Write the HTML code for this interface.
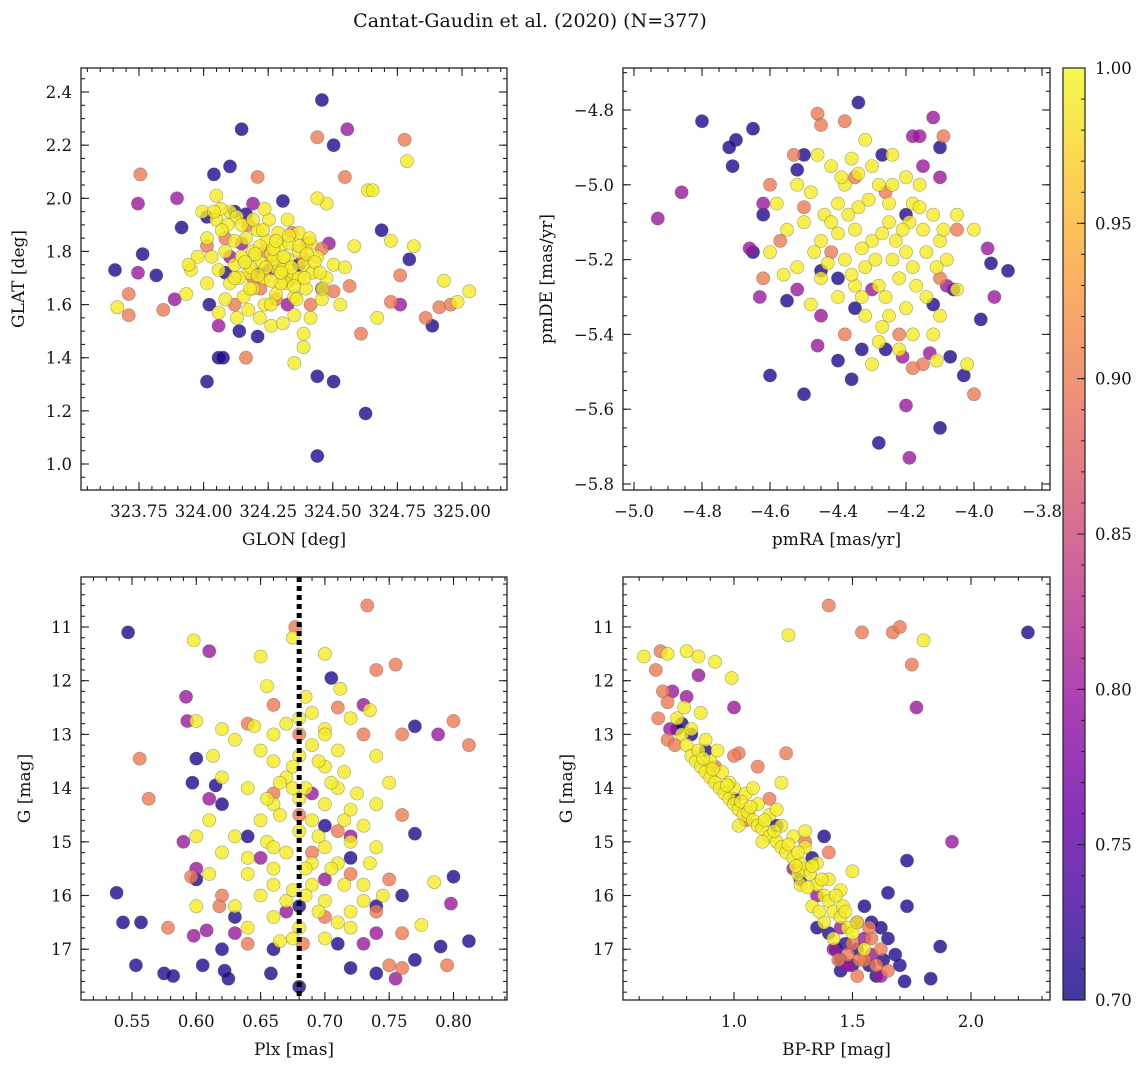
<!DOCTYPE html>
<html><head><meta charset="utf-8"><style>
html,body{margin:0;padding:0;background:#fff;}
svg text{font-family:"DejaVu Serif","Liberation Serif",serif;fill:#111;}
</style></head><body>
<svg id="fig" width="1148" height="1067" viewBox="0 0 1148 1067" xmlns="http://www.w3.org/2000/svg">
<defs><linearGradient id="plasma" x1="0" y1="1" x2="0" y2="0">
<stop offset="0" stop-color="#0d0887"/><stop offset="0.1" stop-color="#41049d"/><stop offset="0.2" stop-color="#6a00a8"/><stop offset="0.3" stop-color="#8f0da4"/><stop offset="0.4" stop-color="#b12a90"/><stop offset="0.5" stop-color="#cc4778"/><stop offset="0.6" stop-color="#e16462"/><stop offset="0.7" stop-color="#f2844b"/><stop offset="0.8" stop-color="#fca636"/><stop offset="0.9" stop-color="#fcce25"/><stop offset="1" stop-color="#f0f921"/></linearGradient></defs>
<text x="530" y="27" font-size="19" text-anchor="middle">Cantat-Gaudin et al. (2020) (N=377)</text>
</svg>
<script>
// membership probability levels for each colour group
const probLevels = [0.71, 0.80, 0.90, 0.99];
// Panel 1: GLON / GLAT pairs grouped by probability level
const skyDark = [[323.657,1.73],[323.764,1.79],[323.817,1.71],[323.915,1.89],[324.013,1.31],[324.022,1.60],[324.04,2.09],[324.058,1.40],[324.075,1.40],[324.102,2.12],[324.147,2.26],[324.209,1.48],[324.44,1.03],[324.44,1.33],[324.458,2.37],[324.503,2.20],[324.503,1.31],[324.627,1.19],[324.689,1.88],[324.796,1.77],[324.885,1.52],[324.12,1.95],[324.164,1.94],[324.218,1.72],[324.307,1.99],[324.084,1.72],[324.369,1.75],[324.458,1.66],[324.138,1.50],[324.013,1.93]];
const skyPurple = [[323.746,1.98],[323.746,1.72],[323.897,2.00],[323.888,1.62],[324.556,2.26],[324.761,1.60],[324.102,1.78],[324.253,1.73],[324.058,1.52],[324.325,1.60],[324.485,1.83],[324.147,1.83],[324.191,1.98]];
const skySalmon = [[323.71,1.64],[323.71,1.56],[323.844,1.58],[323.755,2.09],[324.164,1.40],[324.209,2.08],[324.44,2.23],[324.547,2.08],[324.778,2.22],[324.609,1.49],[324.761,1.71],[324.859,1.55],[324.912,1.59],[324.956,1.60],[324.725,1.61],[324.084,1.85],[324.191,1.70],[324.28,1.62],[324.236,1.80],[324.173,1.90],[324.414,1.60],[324.458,1.81],[324.342,1.87],[324.013,1.82],[324.503,1.65],[324.12,1.60],[324.565,1.67],[324.387,1.77],[324.27,1.77],[324.33,1.69],[324.22,1.66],[324.4,1.83]];
const skyYellow = [[323.666,1.59],[323.933,1.64],[323.951,1.73],[324.049,2.01],[324.351,1.38],[324.636,2.03],[324.654,2.03],[324.787,2.14],[324.672,1.55],[324.814,1.82],[324.983,1.61],[324.93,1.69],[325.028,1.65],[324.725,1.84],[324.12,1.75],[324.147,1.78],[324.173,1.72],[324.191,1.80],[324.218,1.76],[324.236,1.70],[324.262,1.79],[324.28,1.74],[324.298,1.82],[324.325,1.77],[324.342,1.71],[324.369,1.80],[324.387,1.75],[324.164,1.85],[324.209,1.88],[324.244,1.84],[324.289,1.87],[324.316,1.68],[324.191,1.66],[324.155,1.63],[324.102,1.68],[324.084,1.80],[324.058,1.73],[324.031,1.78],[324.013,1.85],[323.995,1.95],[323.977,1.78],[323.942,1.75],[324.049,1.92],[324.102,1.95],[324.129,1.93],[324.147,1.90],[324.253,1.92],[324.325,1.92],[324.369,1.87],[324.414,1.83],[324.44,1.78],[324.422,1.72],[324.396,1.66],[324.351,1.63],[324.28,1.64],[324.236,1.60],[324.173,1.58],[324.129,1.55],[324.218,1.55],[324.262,1.52],[324.351,1.56],[324.414,1.55],[324.458,1.62],[324.476,1.70],[324.503,1.75],[324.387,1.49],[324.387,1.44],[324.307,1.53],[324.058,1.57],[324.013,1.68],[324.084,1.62],[324.12,1.84],[324.236,1.96],[324.218,1.82],[324.182,1.74],[324.271,1.77],[324.307,1.73],[324.333,1.83],[324.138,1.70],[324.093,1.90],[324.066,1.96],[324.04,1.95],[324.476,1.98],[324.44,2.00],[324.547,1.74],[324.583,1.82],[324.529,1.60],[324.191,1.92],[324.369,1.70],[324.298,1.68],[324.16,1.76],[324.2,1.79],[324.24,1.74],[324.27,1.81],[324.31,1.78],[324.34,1.74],[324.37,1.82],[324.4,1.79],[324.43,1.76],[324.26,1.69],[324.3,1.72],[324.35,1.67],[324.21,1.71],[324.18,1.66],[324.33,1.86],[324.28,1.84],[324.39,1.70],[324.45,1.72],[324.41,1.85],[324.23,1.88],[324.12,1.70],[324.07,1.88],[324.36,1.62],[324.26,1.60],[324.46,1.66]];
// Panel 2: pmRA / pmDE
const pmDark = [[-4.80,-4.83],[-4.65,-4.85],[-4.70,-4.88],[-4.72,-4.90],[-4.71,-4.95],[-4.65,-5.18],[-4.55,-5.31],[-4.60,-5.51],[-4.50,-5.56],[-4.40,-5.47],[-4.36,-5.52],[-4.28,-5.69],[-4.10,-5.65],[-4.03,-5.51],[-4.07,-5.46],[-3.98,-5.36],[-3.90,-5.23],[-3.95,-5.21],[-4.10,-4.90],[-4.34,-4.78],[-4.50,-4.92],[-4.26,-5.44],[-4.33,-5.44],[-4.40,-5.25],[-4.27,-4.92],[-4.12,-5.32],[-4.45,-5.23],[-4.52,-4.96],[-4.20,-5.08],[-4.35,-5.33],[-4.06,-5.28],[-4.62,-5.08]];
const pmPurple = [[-4.93,-5.09],[-4.86,-5.02],[-4.66,-5.17],[-4.46,-5.43],[-4.20,-5.59],[-4.19,-5.73],[-3.94,-5.30],[-3.96,-5.17],[-4.12,-4.82],[-4.18,-4.87],[-4.16,-4.87],[-4.10,-4.98],[-4.13,-5.45],[-4.21,-5.46],[-4.63,-5.30],[-4.52,-5.28],[-4.45,-5.35],[-4.30,-5.28],[-4.15,-4.95],[-4.62,-5.05],[-4.08,-5.27]];
const pmSalmon = [[-4.00,-5.56],[-4.09,-4.87],[-4.46,-4.81],[-4.45,-4.84],[-4.53,-4.92],[-4.38,-4.83],[-4.15,-5.48],[-4.62,-5.25],[-4.50,-5.06],[-4.57,-5.15],[-4.42,-5.18],[-4.26,-5.02],[-4.05,-5.12],[-4.10,-5.25],[-4.38,-5.40],[-4.22,-5.40],[-4.60,-5.00],[-4.35,-4.98],[-4.18,-5.49]];
const pmYellow = [[-4.11,-5.47],[-4.30,-5.15],[-4.25,-5.10],[-4.35,-5.12],[-4.20,-5.18],[-4.40,-5.05],[-4.28,-5.00],[-4.18,-5.05],[-4.15,-5.12],[-4.10,-5.15],[-4.22,-5.25],[-4.32,-5.22],[-4.38,-5.20],[-4.45,-5.15],[-4.50,-5.10],[-4.48,-5.02],[-4.42,-4.95],[-4.36,-4.93],[-4.30,-4.95],[-4.25,-5.05],[-4.12,-5.08],[-4.08,-5.20],[-4.14,-5.30],[-4.20,-5.33],[-4.26,-5.30],[-4.32,-5.35],[-4.40,-5.30],[-4.45,-5.25],[-4.52,-5.22],[-4.55,-5.12],[-4.58,-5.05],[-4.52,-5.00],[-4.46,-4.92],[-4.27,-5.38],[-4.18,-5.40],[-4.10,-5.35],[-4.05,-5.28],[-4.05,-5.08],[-4.00,-5.12],[-4.24,-5.20],[-4.34,-5.06],[-4.40,-5.13],[-4.18,-5.22],[-4.28,-5.27],[-4.22,-5.44],[-4.30,-5.48],[-4.12,-5.40],[-4.35,-5.27],[-4.48,-5.32],[-4.60,-5.18],[-4.38,-5.00],[-4.20,-4.98],[-4.16,-5.00],[-4.32,-4.88],[-4.44,-5.08],[-4.56,-5.24],[-4.02,-5.48],[-4.33,-5.17],[-4.27,-5.13],[-4.23,-5.15],[-4.19,-5.10],[-4.14,-5.18],[-4.37,-5.08],[-4.31,-5.04],[-4.24,-5.00],[-4.43,-5.21],[-4.36,-5.24],[-4.29,-5.20],[-4.17,-5.27],[-4.11,-5.22],[-4.21,-5.12],[-4.39,-4.98],[-4.47,-5.18],[-4.25,-5.35],[-4.33,-5.30],[-4.09,-5.12],[-4.16,-5.06],[-4.42,-5.10],[-4.34,-4.97],[-4.28,-5.42],[-4.24,-4.92]];
// Panel 3: Plx / G
const plxDark = [[0.547,11.1],[0.538,15.95],[0.543,16.5],[0.557,16.5],[0.553,17.3],[0.575,17.45],[0.582,17.5],[0.600,13.45],[0.597,13.9],[0.605,17.3],[0.615,13.95],[0.622,17.4],[0.625,17.55],[0.658,17.45],[0.680,17.7],[0.705,11.95],[0.770,12.85],[0.770,14.85],[0.800,15.65],[0.812,16.85],[0.790,16.95],[0.740,17.45],[0.720,17.35],[0.62,14.3],[0.64,14.9],[0.70,14.7],[0.72,15.3],[0.74,16.2],[0.66,17.0],[0.63,16.4],[0.68,16.2],[0.71,16.9],[0.76,16.0],[0.60,15.7],[0.77,17.2],[0.62,17.0]];
const plxPurple = [[0.590,15.0],[0.592,12.3],[0.593,12.75],[0.598,16.75],[0.610,11.45],[0.608,16.65],[0.788,13.0],[0.798,16.15],[0.755,17.55],[0.730,12.45],[0.63,16.7],[0.65,15.3],[0.70,15.7],[0.72,14.9],[0.74,16.7],[0.67,16.3],[0.60,15.5],[0.61,14.2],[0.73,16.9],[0.69,14.1]];
const plxSalmon = [[0.556,13.45],[0.563,14.2],[0.578,16.6],[0.596,15.65],[0.618,16.2],[0.660,12.45],[0.677,11.0],[0.683,16.9],[0.733,10.6],[0.740,11.8],[0.755,11.7],[0.760,13.0],[0.800,12.75],[0.812,13.2],[0.760,14.5],[0.795,17.3],[0.760,17.35],[0.750,17.3],[0.64,12.8],[0.68,14.5],[0.71,14.8],[0.73,13.0],[0.62,16.0],[0.69,15.2],[0.72,15.6],[0.74,16.3],[0.76,16.7],[0.66,14.1],[0.70,16.4],[0.75,15.7],[0.64,16.9],[0.68,13.0],[0.71,12.5]];
const plxYellow = [[0.598,11.25],[0.600,12.75],[0.613,13.4],[0.650,11.55],[0.665,16.85],[0.675,11.2],[0.700,11.5],[0.712,12.15],[0.785,15.75],[0.775,16.55],[0.735,12.55],[0.66,13.5],[0.67,13.8],[0.68,14.2],[0.69,13.2],[0.70,13.6],[0.71,14.0],[0.72,14.4],[0.68,14.8],[0.67,15.2],[0.66,15.5],[0.69,15.8],[0.70,16.1],[0.71,15.4],[0.72,15.0],[0.73,14.7],[0.74,14.3],[0.65,14.6],[0.64,14.0],[0.63,14.9],[0.64,15.6],[0.65,16.0],[0.66,16.4],[0.68,16.6],[0.70,16.8],[0.72,16.3],[0.73,15.8],[0.62,15.2],[0.61,14.6],[0.62,13.8],[0.63,13.1],[0.65,13.3],[0.67,12.8],[0.69,12.6],[0.70,12.9],[0.71,13.3],[0.72,12.7],[0.74,13.4],[0.75,13.9],[0.66,14.3],[0.69,14.6],[0.70,15.1],[0.69,15.4],[0.67,16.1],[0.64,16.6],[0.63,16.2],[0.60,16.2],[0.61,15.6],[0.60,14.9],[0.62,12.9],[0.655,12.1],[0.685,12.3],[0.70,14.3],[0.715,15.8],[0.735,15.4],[0.745,16.0],[0.675,14.0],[0.695,16.3],[0.705,13.9],[0.725,14.1],[0.655,15.0],[0.68,13.4],[0.66,13.0],[0.72,16.6],[0.645,12.85],[0.66,15.8],[0.675,16.8],[0.71,16.5],[0.74,15.1],[0.675,13.6],[0.685,14.0],[0.665,14.5],[0.695,14.9],[0.685,15.5],[0.675,15.9],[0.665,13.9],[0.695,13.5],[0.705,15.5],[0.655,14.2],[0.715,14.6],[0.685,16.0],[0.66,15.1],[0.70,13.0],[0.68,12.7],[0.715,13.7],[0.73,16.1],[0.64,15.3]];
// Panel 4: BP-RP / G
const cmdDark = [[2.24,11.1],[1.73,15.35],[1.73,16.2],[1.65,15.95],[1.87,16.95],[1.83,17.55],[0.78,12.8],[0.76,12.9],[0.82,13.0],[0.88,13.3],[1.00,14.2],[1.18,14.7],[1.33,15.3],[1.38,14.9],[1.55,16.2],[1.58,16.5],[1.62,16.6],[1.65,16.8],[1.68,17.1],[1.70,17.3],[1.72,17.6],[1.60,17.5],[1.45,17.4],[1.45,17.2],[1.50,17.3],[1.40,16.7],[1.35,16.6],[1.28,15.7],[1.43,17.0],[1.52,17.0],[1.57,17.3],[1.63,17.2],[1.47,16.9]];
const cmdPurple = [[0.85,11.9],[1.00,12.5],[1.77,12.5],[1.92,15.0],[0.74,12.2],[0.73,12.9],[0.80,12.3],[1.45,16.6],[1.52,16.5],[1.58,17.1],[1.62,17.5],[1.48,17.3],[1.35,16.0],[1.25,15.5],[1.42,17.0],[1.55,16.8]];
const cmdSalmon = [[0.67,11.8],[0.69,11.45],[1.40,10.6],[1.54,11.1],[1.67,11.1],[1.70,11.0],[1.75,11.7],[1.22,13.35],[1.02,13.35],[0.68,12.7],[0.70,12.2],[0.72,13.1],[0.75,13.2],[0.92,13.6],[1.00,13.4],[1.05,14.6],[1.15,14.2],[1.30,15.0],[1.40,15.2],[1.50,16.9],[1.55,17.2],[1.58,16.8],[1.60,17.3],[1.62,17.0],[1.65,17.4],[1.52,17.5],[1.48,17.1],[0.72,12.4],[1.10,13.6],[1.53,17.2],[1.57,16.6],[1.44,17.2]];
const cmdYellow = [[0.62,11.55],[0.72,11.5],[0.80,11.45],[0.85,11.55],[0.92,11.65],[0.99,11.95],[1.23,11.15],[1.80,11.25],[0.76,12.7],[0.78,13.0],[0.80,13.2],[0.82,13.4],[0.84,13.5],[0.86,13.6],[0.88,13.7],[0.90,13.8],[0.92,13.9],[0.94,14.0],[0.96,14.1],[0.98,14.2],[1.00,14.3],[1.02,14.4],[1.04,14.5],[1.06,14.45],[1.08,14.6],[1.10,14.7],[1.12,14.75],[1.15,14.9],[1.18,15.0],[1.20,15.1],[1.22,15.2],[1.25,15.3],[1.28,15.4],[1.30,15.5],[1.32,15.6],[1.35,15.8],[1.38,16.0],[1.40,16.1],[1.42,16.3],[1.45,16.4],[1.48,16.6],[1.50,16.7],[0.85,13.3],[0.90,13.5],[0.95,13.7],[1.00,14.0],[1.05,14.1],[1.10,14.3],[1.15,14.5],[1.20,14.7],[1.25,14.9],[1.30,15.1],[1.35,15.4],[1.40,15.7],[1.45,15.9],[1.50,15.55],[1.20,13.9],[1.18,14.4],[1.08,14.0],[0.98,13.9],[1.12,15.0],[1.28,15.8],[1.33,16.2],[1.38,16.5],[1.42,16.8],[0.82,12.9],[0.88,13.1],[0.79,12.5],[0.86,12.6],[0.93,13.3],[1.02,14.7],[1.27,15.6],[1.36,16.3],[1.46,16.2],[1.55,17.0],[1.30,14.8],[0.87,13.45],[0.91,13.65],[0.97,13.95],[1.03,14.25],[1.07,14.35],[1.13,14.6],[1.17,14.8],[1.23,15.05],[1.27,15.2],[1.33,15.45],[1.37,15.7],[1.43,16.0],[1.47,16.3],[1.52,16.5],[1.31,15.85],[1.26,15.45]];
// tick labels
const glonTicks = [323.75, 324.00, 324.25, 324.50, 324.75, 325.00];
const glatTicks = [1.0, 1.2, 1.4, 1.6, 1.8, 2.0, 2.2, 2.4];
const pmraTicks = [-5.0, -4.8, -4.6, -4.4, -4.2, -4.0, -3.8];
const pmdeTicks = [-5.8, -5.6, -5.4, -5.2, -5.0, -4.8];
const plxTicks = [0.55, 0.60, 0.65, 0.70, 0.75, 0.80];
const gTicks = [11, 12, 13, 14, 15, 16, 17];
const bprpTicks = [1.0, 1.5, 2.0];
const cbarTicks = [0.70, 0.75, 0.80, 0.85, 0.90, 0.95, 1.00];
const plxReference = [0.68];

const NS = 'http://www.w3.org/2000/svg';
const svg = document.getElementById('fig');
const stops = ['#0d0887','#41049d','#6a00a8','#8f0da4','#b12a90','#cc4778','#e16462','#f2844b','#fca636','#fcce25','#f0f921'];
function hex(h){return [parseInt(h.substr(1,2),16),parseInt(h.substr(3,2),16),parseInt(h.substr(5,2),16)];}
function plasma(p){let t=Math.max(0,Math.min(1,(p-0.7)/0.3))*10;let i=Math.min(9,Math.floor(t));let f=t-i;let a=hex(stops[i]),b=hex(stops[i+1]);return 'rgb('+a.map((v,k)=>Math.round(v+(b[k]-v)*f)).join(',')+')';}
function el(tag, attrs, parent){const e=document.createElementNS(NS,tag);for(const k in attrs)e.setAttribute(k,attrs[k]);(parent||svg).appendChild(e);return e;}
function fmt(v,d){return (v<0?'\u2212':'')+Math.abs(v).toFixed(d);}

function panel(cfg){
  const g=el('g',{});
  
  
  const [L,T,R,B]=cfg.frame;
  const clip=el('clipPath',{id:cfg.name+'-clip'},g);
  el('rect',{x:L,y:T,width:R-L,height:B-T},clip);
  const pts=el('g',{'clip-path':'url(#'+cfg.name+'-clip)'},g);
  
  
  cfg.groups.forEach((grp,gi)=>{
    grp.forEach(d=>{
      const c=el('circle',{cx:cfg.x(d[0]).toFixed(1),cy:cfg.y(d[1]).toFixed(1),r:6.6,fill:plasma(probLevels[gi]),'fill-opacity':0.8,stroke:'#555','stroke-opacity':0.5,'stroke-width':0.6},pts);
      
      
    });
  });
  if(cfg.vline){cfg.vline.forEach(v=>{
    const ln=el('line',{x1:cfg.x(v),x2:cfg.x(v),y1:T,y2:B,stroke:'#000','stroke-width':5,'stroke-dasharray':'5,4'},g);
    
    
  });}
  const fr=el('rect',{x:L,y:T,width:R-L,height:B-T,fill:'none',stroke:'#222','stroke-width':1.3},g);
  
  
  const [x0,x1]=cfg.xdom,[y0,y1]=cfg.ydom;
  function mk(p1x,p1y,p2x,p2y){el('line',{x1:p1x,y1:p1y,x2:p2x,y2:p2y,stroke:'#222','stroke-width':1.1},g);}
  for(let v=Math.ceil(x0/cfg.xmin-1e-6)*cfg.xmin; v<=x1; v+=cfg.xmin){const px=cfg.x(v);if(px<L||px>R)continue;mk(px,B,px,B-4);mk(px,T,px,T+4);}
  for(let v=Math.ceil(y0/cfg.ymin-1e-6)*cfg.ymin; v<=y1; v+=cfg.ymin){const py=cfg.y(v);if(py<T||py>B)continue;mk(L,py,L+4,py);mk(R,py,R-4,py);}
  const xl=el('g',{},g);
  
  
  cfg.xt.forEach(v=>{const px=cfg.x(v);mk(px,B,px,B-8);mk(px,T,px,T+8);
    const t=el('text',{x:px,y:B+27,'font-size':16.5,'text-anchor':'middle'},xl);t.textContent=fmt(v,cfg.xd);});
  const yl=el('g',{},g);
  
  
  cfg.yt.forEach(v=>{const py=cfg.y(v);mk(L,py,L+8,py);mk(R,py,R-8,py);
    const t=el('text',{x:L-9,y:py+6,'font-size':16.5,'text-anchor':'end'},yl);t.textContent=fmt(v,cfg.yd);});
  const xa=el('text',{x:(L+R)/2,y:B+55,'font-size':17,'text-anchor':'middle'},g);
  xa.textContent=cfg.xlabel;
  
  
  const yx=cfg.ylx, yy=(T+B)/2;
  const ya=el('text',{x:yx,y:yy,'font-size':17,'text-anchor':'middle',transform:'rotate(-90 '+yx+' '+yy+')'},g);
  ya.textContent=cfg.ylabel;
  
  
}
const gY=v=>627+(v-11)*53.7;
panel({name:'glon-glat-panel',frame:[81,68,507,490],x:v=>139+(v-323.75)*258.4,y:v=>464-(v-1)*265.7,xdom:[323.5,325.4],ydom:[0.89,2.5],xmin:0.05,ymin:0.05,xt:glonTicks,yt:glatTicks,xd:2,yd:1,xlabel:'GLON [deg]',ylabel:'GLAT [deg]',ylx:24,groups:[skyDark,skyPurple,skySalmon,skyYellow]});
panel({name:'pm-panel',frame:[623,68,1050,490],x:v=>634+(v+5)*340,y:v=>110+(-4.8-v)*374,xdom:[-5.05,-3.7],ydom:[-5.82,-4.68],xmin:0.05,ymin:0.05,xt:pmraTicks,yt:pmdeTicks,xd:1,yd:1,xlabel:'pmRA [mas/yr]',ylabel:'pmDE [mas/yr]',ylx:552,groups:[pmDark,pmPurple,pmSalmon,pmYellow]});
panel({name:'plx-g-panel',frame:[81,577,507,1000],x:v=>132+(v-0.55)*1286,y:gY,xdom:[0.5,0.85],ydom:[10,18],xmin:0.01,ymin:0.2,xt:plxTicks,yt:gTicks,xd:2,yd:0,xlabel:'Plx [mas]',ylabel:'G [mag]',ylx:30,vline:plxReference,groups:[plxDark,plxPurple,plxSalmon,plxYellow]});
panel({name:'cmd-panel',frame:[623,577,1050,1000],x:v=>734+(v-1)*237,y:gY,xdom:[0.5,2.4],ydom:[10,18],xmin:0.1,ymin:0.2,xt:bprpTicks,yt:gTicks,xd:1,yd:0,xlabel:'BP-RP [mag]',ylabel:'G [mag]',ylx:572,groups:[cmdDark,cmdPurple,cmdSalmon,cmdYellow]});
const cb=el('g',{});


const cbY=v=>1000-(v-0.7)/0.3*932;
el('rect',{x:1063,y:68,width:22,height:932,fill:'url(#plasma)','fill-opacity':0.8},cb);
el('rect',{x:1063,y:68,width:22,height:932,fill:'none',stroke:'#222','stroke-width':1.2},cb);
for(let v=0.70; v<=1.0001; v+=0.01){const py=cbY(v);el('line',{x1:1085,x2:1081,y1:py,y2:py,stroke:'#222','stroke-width':1},cb);}
cbarTicks.forEach(v=>{const py=cbY(v);el('line',{x1:1085,x2:1077,y1:py,y2:py,stroke:'#222','stroke-width':1},cb);
  const t=el('text',{x:1095,y:py+6,'font-size':16.5},cb);t.textContent=v.toFixed(2);
  
  
});
</script>
</body></html>
